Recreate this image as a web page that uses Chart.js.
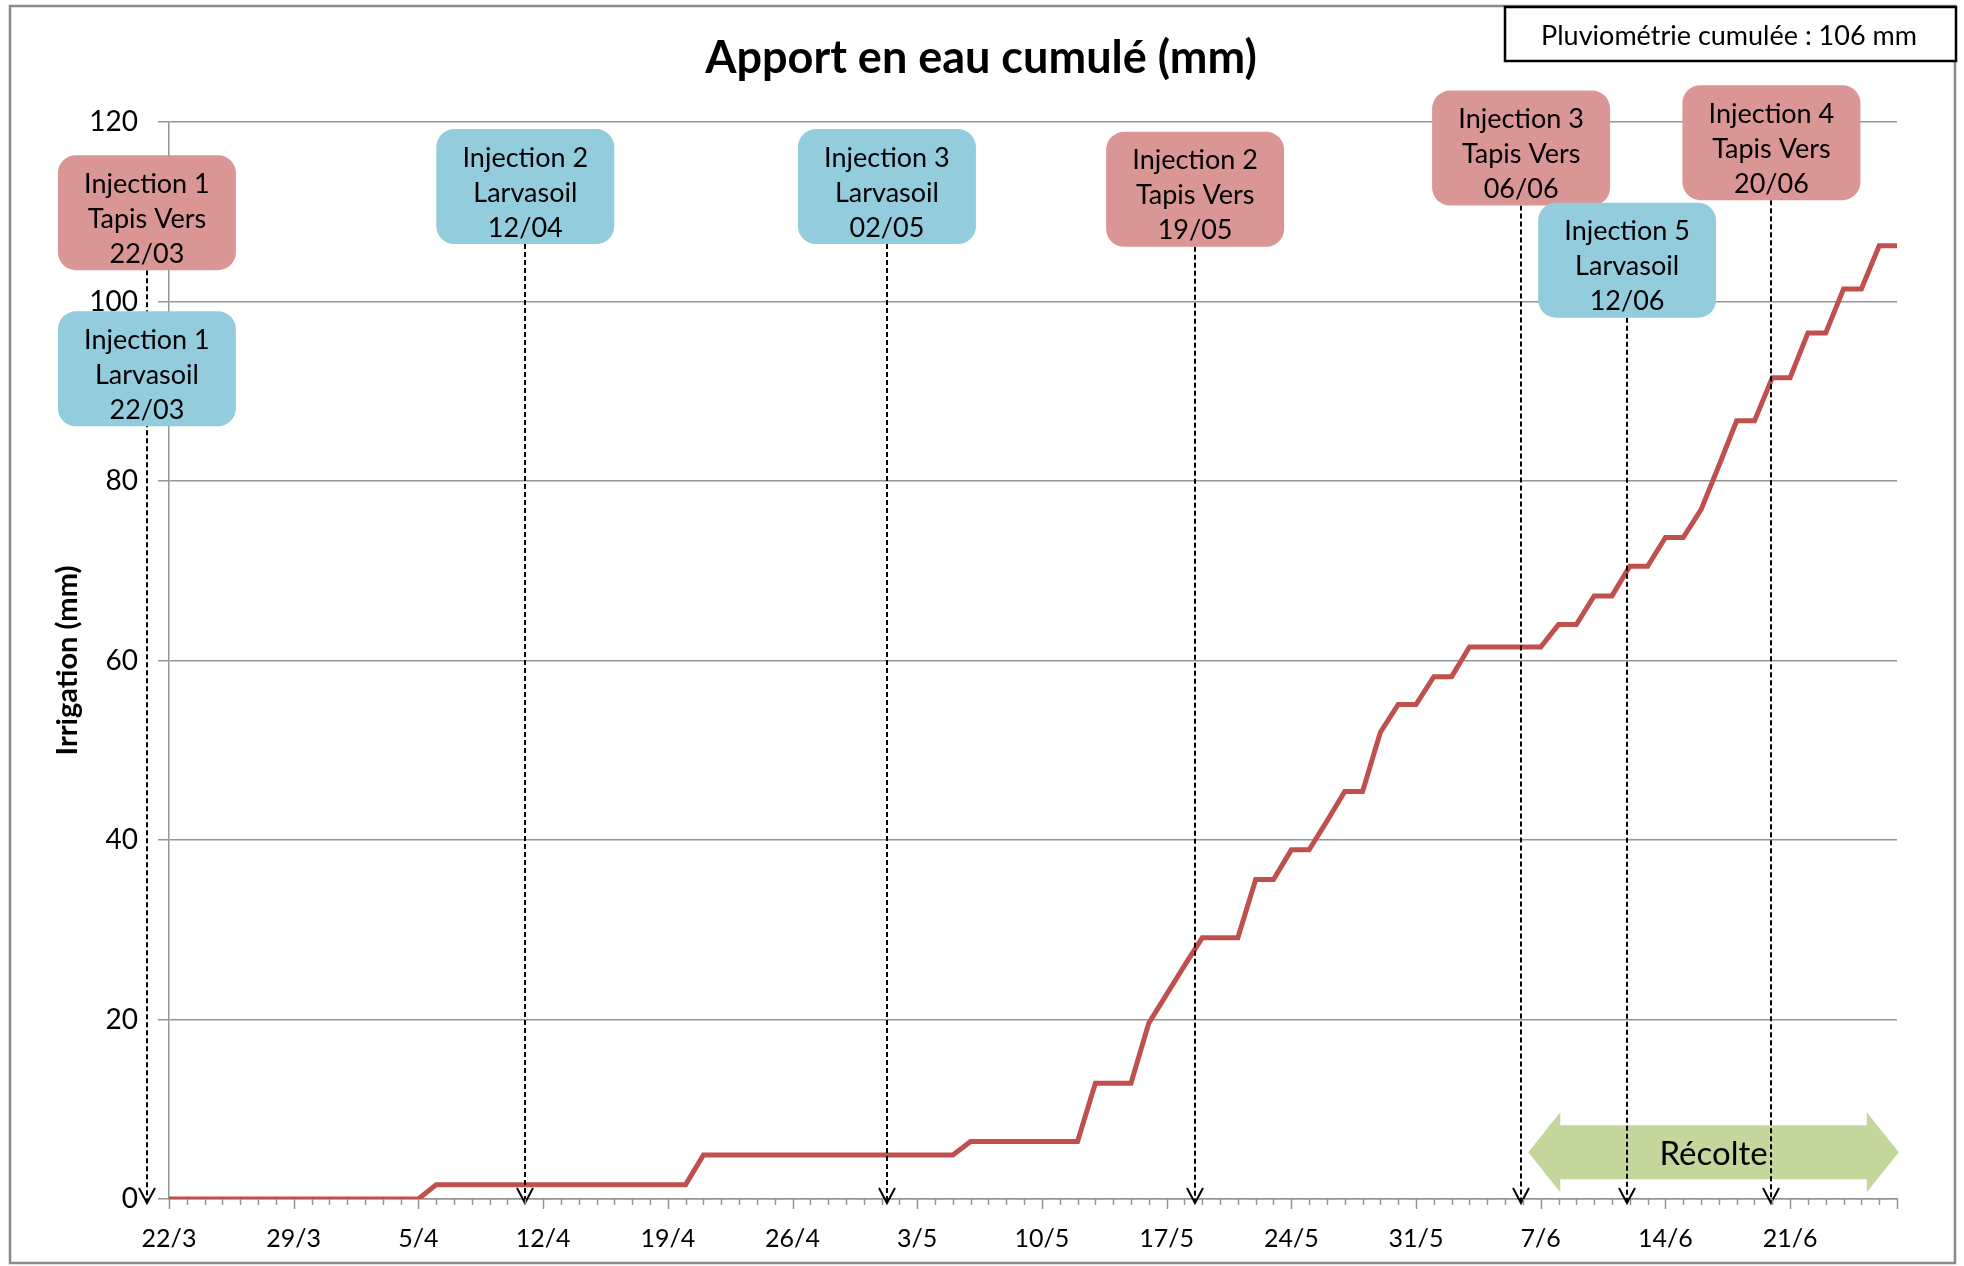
<!DOCTYPE html>
<html>
<head>
<meta charset="utf-8">
<title>Apport en eau cumulé (mm)</title>
<script src="https://cdn.jsdelivr.net/npm/chart.js@4.4.1/dist/chart.umd.min.js"></script>
<style>
  html, body { margin: 0; padding: 0; background: #fff; }
  canvas { display: block; }
</style>
</head>
<body>
<canvas id="apportChart" width="1964" height="1266"></canvas>
<script>
    // jours du 22/3 au 27/6
    const dates = [
        '22/3', '23/3', '24/3', '25/3', '26/3', '27/3', '28/3', '29/3', '30/3', '31/3',
        '1/4', '2/4', '3/4', '4/4', '5/4', '6/4', '7/4', '8/4', '9/4', '10/4',
        '11/4', '12/4', '13/4', '14/4', '15/4', '16/4', '17/4', '18/4', '19/4', '20/4',
        '21/4', '22/4', '23/4', '24/4', '25/4', '26/4', '27/4', '28/4', '29/4', '30/4',
        '1/5', '2/5', '3/5', '4/5', '5/5', '6/5', '7/5', '8/5', '9/5', '10/5',
        '11/5', '12/5', '13/5', '14/5', '15/5', '16/5', '17/5', '18/5', '19/5', '20/5',
        '21/5', '22/5', '23/5', '24/5', '25/5', '26/5', '27/5', '28/5', '29/5', '30/5',
        '31/5', '1/6', '2/6', '3/6', '4/6', '5/6', '6/6', '7/6', '8/6', '9/6',
        '10/6', '11/6', '12/6', '13/6', '14/6', '15/6', '16/6', '17/6', '18/6', '19/6',
        '20/6', '21/6', '22/6', '23/6', '24/6', '25/6', '26/6', '27/6'
    ];

    // dates affichées sous l'axe
    const weekLabels = ['22/3', '29/3', '5/4', '12/4', '19/4', '26/4', '3/5', '10/5', '17/5', '24/5', '31/5', '7/6', '14/6', '21/6'];

    // irrigation cumulée (mm), un point par jour
    const irrigation = [
        0, 0, 0, 0, 0, 0, 0, 0, 0, 0,
        0, 0, 0, 0, 0, 1.6, 1.6, 1.6, 1.6, 1.6,
        1.6, 1.6, 1.6, 1.6, 1.6, 1.6, 1.6, 1.6, 1.6, 1.6,
        4.9, 4.9, 4.9, 4.9, 4.9, 4.9, 4.9, 4.9, 4.9, 4.9,
        4.9, 4.9, 4.9, 4.9, 4.9, 6.4, 6.4, 6.4, 6.4, 6.4,
        6.4, 6.4, 12.9, 12.9, 12.9, 19.6, 22.8, 26.0, 29.1, 29.1,
        29.1, 35.6, 35.6, 38.9, 38.9, 42.1, 45.4, 45.4, 52.0, 55.1,
        55.1, 58.2, 58.2, 61.5, 61.5, 61.5, 61.5, 61.5, 64.0, 64.0,
        67.2, 67.2, 70.5, 70.5, 73.7, 73.7, 76.8, 81.7, 86.7, 86.7,
        91.5, 91.5, 96.5, 96.5, 101.4, 101.4, 106.2, 106.2
    ];

    // injections (texte des étiquettes)
    const injTitles = ['Injection 1', 'Injection 1', 'Injection 2', 'Injection 3', 'Injection 2', 'Injection 3', 'Injection 5', 'Injection 4'];
    const injProducts = ['Tapis Vers', 'Larvasoil', 'Larvasoil', 'Larvasoil', 'Tapis Vers', 'Tapis Vers', 'Larvasoil', 'Tapis Vers'];
    const injDates = ['22/03', '22/03', '12/04', '02/05', '19/05', '06/06', '12/06', '20/06'];

    const pluvioText = 'Pluviométrie cumulée : 106 mm';
    const recolteText = 'Récolte';

    // placement des étiquettes : [jour sur l'axe x, niveau en mm]
    const boxAnchors = [[-1.24, 109.9], [-1.24, 92.5], [20.0, 112.8], [40.3, 112.8], [57.6, 112.5], [75.9, 117.1], [81.85, 104.6], [89.95, 117.7]];
    // flèche récolte : début/fin en jours, niveau en mm
    const recolteSpan = [76.3, 97.1, 5.2];

    const colors = {
        line: '#C0504D',
        'Tapis Vers': '#D99694',
        'Larvasoil': '#93CDDD',
        recolte: '#C3D69B',
        grid: '#959595'
    };

    // dessin des annotations (flèches, étiquettes)
    const annotations = {
        id: 'annotations',
        afterDatasetsDraw(chart) {
            const ctx = chart.ctx;
            const xs = chart.scales.x;
            const ys = chart.scales.y;
            const tipY = ys.getPixelForValue(0) + 4;
            const boxW = 178, boxH = 115;

            ctx.save();

            // flèche double "Récolte"
            const x1 = xs.getPixelForValue(recolteSpan[0]);
            const x2 = xs.getPixelForValue(recolteSpan[1]);
            const cy = ys.getPixelForValue(recolteSpan[2]);
            const head = 32, hh = 40, sh = 27;
            ctx.fillStyle = colors.recolte;
            ctx.beginPath();
            ctx.moveTo(x1, cy);
            ctx.lineTo(x1 + head, cy - hh);
            ctx.lineTo(x1 + head, cy - sh);
            ctx.lineTo(x2 - head, cy - sh);
            ctx.lineTo(x2 - head, cy - hh);
            ctx.lineTo(x2, cy);
            ctx.lineTo(x2 - head, cy + hh);
            ctx.lineTo(x2 - head, cy + sh);
            ctx.lineTo(x1 + head, cy + sh);
            ctx.lineTo(x1 + head, cy + hh);
            ctx.closePath();
            ctx.fill();
            ctx.fillStyle = '#000';
            ctx.font = '33px Lato';
            ctx.textAlign = 'center';
            ctx.textBaseline = 'alphabetic';
            ctx.fillText(recolteText, (x1 + x2) / 2, cy + 13);

            // traits pointillés et pointes de flèche (un seul trait par position)
            ctx.strokeStyle = '#000';
            ctx.lineWidth = 2;
            const done = [];
            boxAnchors.forEach(([day, level]) => {
                if (done.includes(day)) return;
                done.push(day);
                const px = Math.round(xs.getPixelForValue(day));
                const bottom = ys.getPixelForValue(level) + boxH / 2;
                ctx.setLineDash([5, 3]);
                ctx.beginPath();
                ctx.moveTo(px, bottom);
                ctx.lineTo(px, tipY);
                ctx.stroke();
                ctx.setLineDash([]);
                ctx.beginPath();
                ctx.moveTo(px - 8, tipY - 15);
                ctx.lineTo(px, tipY);
                ctx.lineTo(px + 8, tipY - 15);
                ctx.stroke();
            });

            // étiquettes
            boxAnchors.forEach(([day, level], i) => {
                const px = xs.getPixelForValue(day);
                const py = ys.getPixelForValue(level);
                ctx.fillStyle = colors[injProducts[i]];
                ctx.beginPath();
                ctx.roundRect(px - boxW / 2, py - boxH / 2, boxW, boxH, 18);
                ctx.fill();
                ctx.fillStyle = '#000';
                ctx.font = '27px Lato';
                ctx.textAlign = 'center';
                ctx.textBaseline = 'alphabetic';
                [injTitles[i], injProducts[i], injDates[i]].forEach((t, k) => {
                    ctx.fillText(t, px, py - 20 + k * 35);
                });
            });
            ctx.restore();
        },
        afterDraw(chart) {
            const ctx = chart.ctx;
            const xs = chart.scales.x;
            const base = chart.chartArea.bottom;
            ctx.save();

            // graduations journalières
            ctx.strokeStyle = colors.grid;
            ctx.lineWidth = 1.5;
            dates.forEach((d, i) => {
                const px = Math.round(xs.getPixelForValue(i)) + 0.5;
                const len = (weekLabels.includes(d) || i === dates.length - 1) ? 10 : 6;
                ctx.beginPath();
                ctx.moveTo(px, base);
                ctx.lineTo(px, base + len);
                ctx.stroke();
            });

            // cadre
            ctx.strokeStyle = '#8a8a8a';
            ctx.lineWidth = 2.5;
            ctx.strokeRect(10, 6, 1945, 1257);

            // titre
            ctx.fillStyle = '#000';
            ctx.font = 'bold 45px Lato';
            ctx.textAlign = 'center';
            ctx.textBaseline = 'alphabetic';
            ctx.fillText('Apport en eau cumulé (mm)', 981, 73);

            // encadré pluviométrie
            ctx.fillStyle = '#fff';
            ctx.fillRect(1505, 7, 451, 54);
            ctx.strokeStyle = '#000';
            ctx.lineWidth = 2.5;
            ctx.strokeRect(1505, 7, 451, 54);
            ctx.fillStyle = '#000';
            ctx.font = '27px Lato';
            ctx.fillText(pluvioText, 1729, 45);
            ctx.restore();
        }
    };

    function renderChart() {
        new Chart(document.getElementById('apportChart'), {
            type: 'line',
            data: {
                labels: dates,
                datasets: [{
                    label: 'Irrigation',
                    data: irrigation,
                    borderColor: colors.line,
                    borderWidth: 5,
                    pointRadius: 0,
                    tension: 0,
                    fill: false
                }]
            },
            options: {
                responsive: false,
                animation: false,
                layout: { padding: { top: 122, right: 67, left: 0, bottom: 0 } },
                plugins: {
                    legend: { display: false },
                    title: { display: false },
                    tooltip: { enabled: false }
                },
                scales: {
                    x: {
                        type: 'category',
                        offset: false,
                        grid: { display: false, drawTicks: false },
                        border: { display: true, color: colors.grid, width: 1.5 },
                        ticks: {
                            autoSkip: false,
                            maxRotation: 0,
                            minRotation: 0,
                            padding: 25,
                            color: '#000',
                            font: { family: 'Lato', size: 25 },
                            callback: (value, index) => weekLabels.includes(dates[index]) ? dates[index] : ''
                        },
                        afterFit: (scale) => { scale.height = 67; }
                    },
                    y: {
                        min: 0,
                        max: 120,
                        grid: { color: colors.grid, lineWidth: 1.5, tickLength: 11, tickColor: colors.grid },
                        border: { display: true, color: colors.grid, width: 1.5 },
                        ticks: {
                            stepSize: 20,
                            padding: 20,
                            color: '#000',
                            font: { family: 'Lato', size: 28 }
                        },
                        title: {
                            display: true,
                            text: 'Irrigation (mm)',
                            color: '#000',
                            padding: { top: 50, bottom: 0 },
                            font: { family: 'Lato', size: 29, weight: 'bold' }
                        },
                        afterFit: (scale) => { scale.width = 169; }
                    }
                }
            },
            plugins: [annotations]
        });
    }

    window.onload = function() {
        renderChart();
    };
</script>
</body>
</html>
